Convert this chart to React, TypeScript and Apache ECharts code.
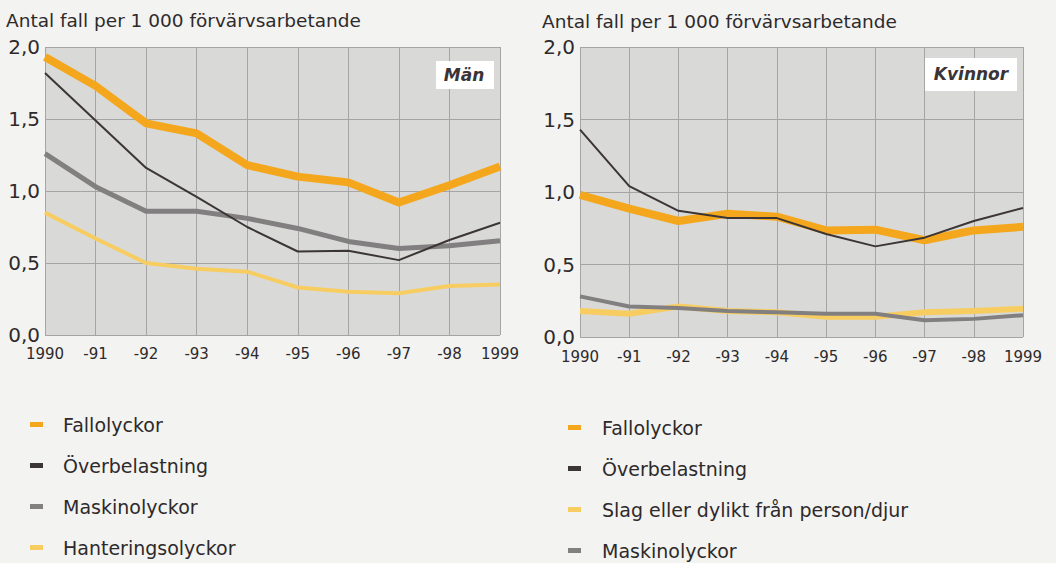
import React, { useEffect, useRef } from "react";
import * as echarts from "echarts";

const years = ["1990", "-91", "-92", "-93", "-94", "-95", "-96", "-97", "-98", "1999"];

// Män
const menFall = [1.93, 1.73, 1.47, 1.4, 1.18, 1.1, 1.06, 0.92, 1.04, 1.17];
const menOver = [1.82, 1.49, 1.16, 0.96, 0.75, 0.58, 0.585, 0.52, 0.66, 0.78];
const menMaskin = [1.26, 1.03, 0.86, 0.86, 0.81, 0.74, 0.65, 0.6, 0.62, 0.655];
const menHanter = [0.85, 0.67, 0.5, 0.46, 0.44, 0.33, 0.3, 0.29, 0.34, 0.35];

// Kvinnor
const womFall = [0.98, 0.885, 0.8, 0.85, 0.83, 0.735, 0.74, 0.667, 0.735, 0.76];
const womOver = [1.43, 1.04, 0.87, 0.82, 0.82, 0.71, 0.625, 0.685, 0.8, 0.89];
const womSlag = [0.18, 0.16, 0.21, 0.18, 0.17, 0.14, 0.14, 0.17, 0.18, 0.195];
const womMaskin = [0.28, 0.21, 0.2, 0.18, 0.17, 0.16, 0.16, 0.115, 0.125, 0.15];

const menLegend = ["Fallolyckor", "Överbelastning", "Maskinolyckor", "Hanteringsolyckor"];
const womLegend = ["Fallolyckor", "Överbelastning", "Slag eller dylikt från person/djur", "Maskinolyckor"];
const yAxisTitle = "Antal fall per 1 000 förvärvsarbetande";

const C_FALL = "#f4a71d";
const C_OVER = "#3b3536";
const C_MASK = "#827f80";
const C_LIGHT = "#f7cd62";
const FONT = "DejaVu Sans, Liberation Sans, sans-serif";
const TXT = "#2e2a2b";

export default function App() {
  const ref = useRef<HTMLDivElement>(null);
  useEffect(() => {
    if (!ref.current) return;
    const chart = echarts.init(ref.current, null, { renderer: "svg" });
    const xAxisBase = (gi: number, margin: number) => ({
      type: "category",
      gridIndex: gi,
      data: years,
      boundaryGap: false,
      axisLine: { show: false },
      axisTick: { show: false },
      axisLabel: { color: TXT, fontSize: 15, fontFamily: FONT, margin, interval: 0, hideOverlap: false },
      splitLine: { show: true, interval: 0, lineStyle: { color: "#a5a5a5", width: 1 } },
    });
    const yAxisBase = (gi: number) => ({
      type: "value",
      gridIndex: gi,
      min: 0,
      max: 2,
      interval: 0.5,
      axisLine: { show: false },
      axisTick: { show: false },
      axisLabel: {
        color: TXT,
        fontSize: 20,
        fontFamily: FONT,
        margin: 5,
        formatter: (v: number) => v.toFixed(1).replace(".", ","),
      },
      splitLine: { show: true, lineStyle: { color: "#a5a5a5", width: 1 } },
    });
    const line = (name: string, data: number[], color: string, width: number, idx: number, z: number) => ({
      type: "line",
      name,
      data,
      xAxisIndex: idx,
      yAxisIndex: idx,
      symbol: "none",
      z,
      lineStyle: { color, width, join: "round", cap: "butt" },
      itemStyle: { color },
    });
    const legendBase = (pad: number) => ({
      orient: "vertical",
      padding: 0,
      height: 170,
      itemWidth: 13,
      itemHeight: 5,
      itemGap: 22,
      icon: "rect",
      selectedMode: false,
      textStyle: { color: TXT, fontSize: 19, fontFamily: FONT, lineHeight: 19, padding: [0, 0, 0, pad] },
    });
    chart.setOption({
      animation: false,
      backgroundColor: "#f3f3f1",
      grid: [
        { left: 45, right: 556, top: 47, bottom: 228, show: true, backgroundColor: "#d9d9d8", borderWidth: 0 },
        { left: 580, right: 33, top: 47, bottom: 226, show: true, backgroundColor: "#d9d9d8", borderWidth: 0 },
      ],
      xAxis: [xAxisBase(0, 11), xAxisBase(1, 12)],
      yAxis: [yAxisBase(0), yAxisBase(1)],
      legend: [
        { ...legendBase(15), left: 30, top: 415, data: menLegend },
        { ...legendBase(16), left: 568, top: 418, data: womLegend },
      ],
      graphic: [
        {
          type: "text",
          left: 6,
          top: 11,
          style: { text: yAxisTitle, fontSize: 18.5, fontFamily: FONT, fill: TXT },
        },
        {
          type: "text",
          left: 542,
          top: 12,
          style: { text: yAxisTitle, fontSize: 18.5, fontFamily: FONT, fill: TXT },
        },
        {
          type: "rect",
          shape: { x: 436, y: 61, width: 58, height: 28 },
          style: { fill: "#ffffff" },
          z: 100,
        },
        {
          type: "text",
          x: 464,
          y: 75,
          z: 101,
          style: {
            text: "Män",
            fontSize: 17,
            fontWeight: "bold",
            fontStyle: "italic",
            fontFamily: FONT,
            fill: "#3a3436",
            align: "center",
            verticalAlign: "middle",
          },
        },
        {
          type: "rect",
          shape: { x: 925, y: 58, width: 92, height: 33 },
          style: { fill: "#ffffff" },
          z: 100,
        },
        {
          type: "text",
          x: 971,
          y: 74,
          z: 101,
          style: {
            text: "Kvinnor",
            fontSize: 17,
            fontWeight: "bold",
            fontStyle: "italic",
            fontFamily: FONT,
            fill: "#3a3436",
            align: "center",
            verticalAlign: "middle",
          },
        },
      ],
      series: [
        line("Hanteringsolyckor", menHanter, C_LIGHT, 4, 0, 2),
        line("Maskinolyckor", menMaskin, C_MASK, 5, 0, 3),
        line("Fallolyckor", menFall, C_FALL, 8, 0, 4),
        line("Överbelastning", menOver, C_OVER, 2, 0, 5),
        line("Slag eller dylikt från person/djur", womSlag, C_LIGHT, 6, 1, 2),
        line("Maskinolyckor", womMaskin, C_MASK, 4, 1, 3),
        line("Fallolyckor", womFall, C_FALL, 8, 1, 4),
        line("Överbelastning", womOver, C_OVER, 2, 1, 5),
      ],
    });
    return () => chart.dispose();
  }, []);
  return (
    <div
      ref={ref}
      style={{ position: "fixed", left: 0, top: 0, width: 1056, height: 563 }}
    />
  );
}
